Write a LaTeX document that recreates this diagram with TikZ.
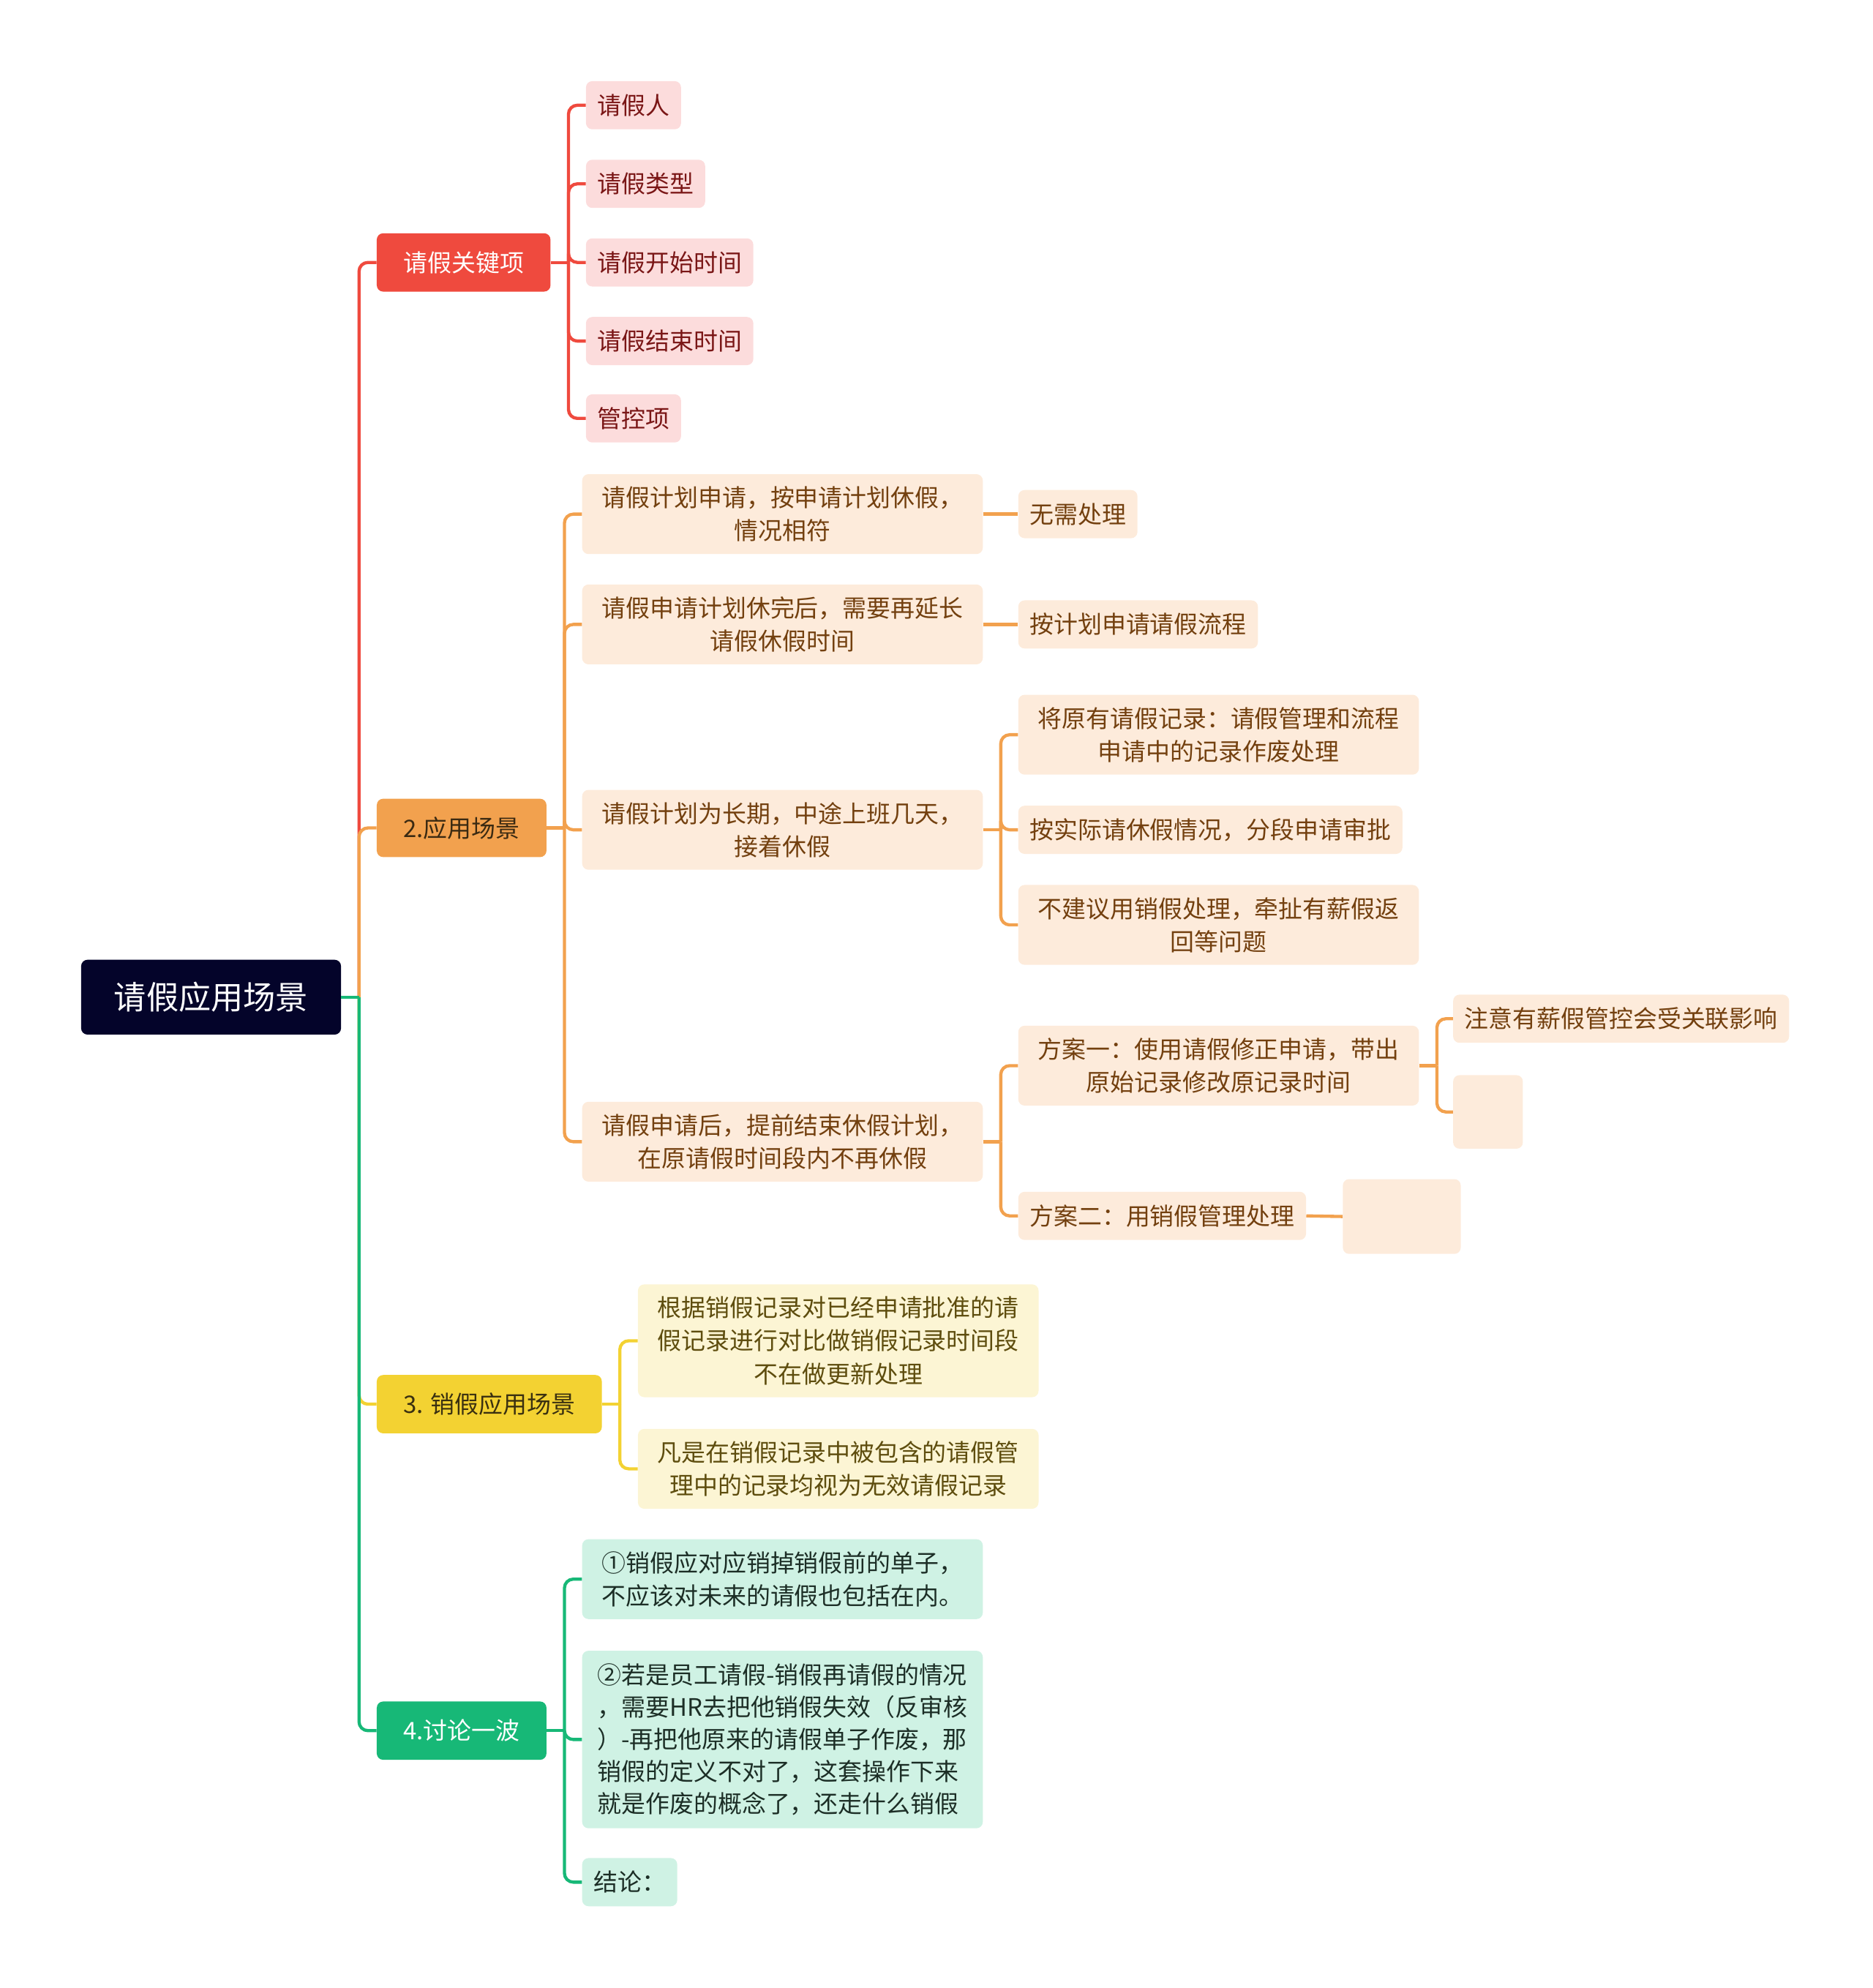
\documentclass[tikz,border=0pt]{standalone}
\usepackage{fontspec}
\setmainfont{Noto Sans CJK SC}
\usepackage{xcolor}
\usepackage{tikz}
\usetikzlibrary{positioning}
\definecolor{rootc}{HTML}{04042A}
\definecolor{redc}{HTML}{EF4A3E}
\definecolor{redl}{HTML}{FCDCDC}
\definecolor{redt}{HTML}{7A1616}
\definecolor{orac}{HTML}{F2A14E}
\definecolor{oral}{HTML}{FDEBDB}
\definecolor{orat}{HTML}{73400F}
\definecolor{oramt}{HTML}{3B2A12}
\definecolor{yelc}{HTML}{F3D232}
\definecolor{yell}{HTML}{FCF5D4}
\definecolor{yelt}{HTML}{5E4D0E}
\definecolor{yelmt}{HTML}{3A3010}
\definecolor{grnc}{HTML}{17B877}
\definecolor{grnl}{HTML}{CFF2E4}
\definecolor{grnt}{HTML}{1C2E26}
\tikzset{
  topic/.style   = {rounded corners=5pt, fill=rootc, text=white, inner sep=0pt,
                    minimum width=205pt, minimum height=59pt,
                    font=\fontsize{25.5}{30}\selectfont},
  mainbox/.style = {anchor=west, rounded corners=5pt, inner xsep=21pt, inner ysep=0pt,
                    minimum height=46pt, font=\fontsize{19}{26}\selectfont},
  subbox/.style  = {anchor=west, rounded corners=5pt, inner xsep=9pt, inner ysep=0pt,
                    minimum height=38pt, font=\fontsize{19}{26}\selectfont},
  widebox/.style = {subbox, minimum width=316pt, align=center, minimum height=63pt},
  keyleaf/.style = {subbox, fill=redl, text=redt},
  appleaf/.style = {subbox, fill=oral, text=orat},
  appwide/.style = {widebox, fill=oral, text=orat},
  celwide/.style = {widebox, fill=yell, text=yelt},
  talkwide/.style= {widebox, fill=grnl, text=grnt, align=left},
  link/.style    = {line width=2.5pt},
  fork/.style    = {link, rounded corners=7pt},
}
\begin{document}
\begin{tikzpicture}[x=1pt, y=-1pt]
  \useasboundingbox (0,0) rectangle (1477,1568);
  % root and main branches
  \node[topic] (root) at (166.5, 786.5) {请假应用场景};
  \node[mainbox, fill=redc, text=white] (key) at (297, 207) {请假关键项};
  \node[mainbox, fill=orac, text=oramt] (app) at (297, 653) {2.应用场景};
  \node[mainbox, fill=yelc, text=yelmt] (cel) at (297, 1107.5) {3. 销假应用场景};
  \node[mainbox, fill=grnc, text=white] (talk) at (297, 1365) {4.讨论一波};
  % key items
  \node[keyleaf] (k1) at (462, 83) {请假人};
  \node[keyleaf] (k2) at (462, 145) {请假类型};
  \node[keyleaf] (k3) at (462, 207) {请假开始时间};
  \node[keyleaf] (k4) at (462, 269) {请假结束时间};
  \node[keyleaf] (k5) at (462, 330) {管控项};
  % scenes
  \node[appwide] (a1) at (459, 405.5) {请假计划申请，按申请计划休假，\\情况相符};
  \node[appwide] (a2) at (459, 492.5) {请假申请计划休完后，需要再延长\\请假休假时间};
  \node[appwide] (a3) at (459, 654.5) {请假计划为长期，中途上班几天，\\接着休假};
  \node[appwide] (a4) at (459, 900.5) {请假申请后，提前结束休假计划，\\在原请假时间段内不再休假};
  \node[appleaf] (a1x) at (803, 405.5) {无需处理};
  \node[appleaf] (a2x) at (803, 492.5) {按计划申请请假流程};
  \node[appwide] (a3a) at (803, 579.5) {将原有请假记录：请假管理和流程\\申请中的记录作废处理};
  \node[appleaf] (a3b) at (803, 654.5) {按实际请休假情况，分段申请审批};
  \node[appwide] (a3c) at (803, 729.5) {不建议用销假处理，牵扯有薪假返\\回等问题};
  \node[appwide] (a4a) at (803, 840.5) {方案一：使用请假修正申请，带出\\原始记录修改原记录时间};
  \node[appleaf] (a4b) at (803, 959) {方案二：用销假管理处理};
  \node[appleaf] (a4a1) at (1146, 803.5) {注意有薪假管控会受关联影响};
  \node[appleaf, minimum width=55pt, minimum height=58pt] (a4a2) at (1146, 877) {};
  \node[appleaf, minimum width=93pt, minimum height=59pt] (a4b1) at (1059, 959.5) {};
  % cancel scenes
  \node[celwide, minimum height=89pt] (c1) at (503, 1057.5)
    {根据销假记录对已经申请批准的请\\假记录进行对比做销假记录时间段\\不在做更新处理};
  \node[celwide] (c2) at (503, 1158.5) {凡是在销假记录中被包含的请假管\\理中的记录均视为无效请假记录};
  % discussion
  \node[talkwide] (t1) at (459, 1245.5) {①销假应对应销掉销假前的单子，\\不应该对未来的请假也包括在内。};
  \node[talkwide, minimum height=140pt, font=\fontsize{19}{25.3}\selectfont] (t2) at (459, 1372)
    {②若是员工请假-销假再请假的情况\\，需要HR去把他销假失效（反审核\\）-再把他原来的请假单子作废，那\\销假的定义不对了，这套操作下来\\就是作废的概念了，还走什么销假};
  \node[subbox, fill=grnl, text=grnt] (t3) at (459, 1484.5) {结论：};

  % trunk
  \coordinate (rj) at ([xshift=14pt]root.east);
  \draw[fork, redc] (rj) |- (key.west);
  \draw[fork, orac] (rj) |- (app.west);
  \draw[fork, yelc] (rj) |- (cel.west);
  \draw[fork, grnc] (rj) |- (talk.west);
  \draw[link, grnc] (root.east) -- (rj);
  % key items
  \draw[link, redc] (key.east) -- ++(14,0) coordinate (kj);
  \foreach \n in {k1,k2,k3,k4,k5}
    \draw[fork, redc] (kj) |- (\n.west);
  % scenes
  \draw[link, orac] (app.east) -- ++(14,0) coordinate (aj);
  \foreach \n in {a1,a2,a3,a4}
    \draw[fork, orac] (aj) |- (\n.west);
  \draw[link, orac] (a1.east) -- (a1x.west);
  \draw[link, orac] (a2.east) -- (a2x.west);
  \draw[link, orac] (a3.east) -- ++(14,0) coordinate (a3j);
  \foreach \n in {a3a,a3b,a3c}
    \draw[fork, orac] (a3j) |- (\n.west);
  \draw[link, orac] (a4.east) -- ++(14,0) coordinate (a4j);
  \foreach \n in {a4a,a4b}
    \draw[fork, orac] (a4j) |- (\n.west);
  \draw[link, orac] (a4a.east) -- ++(14,0) coordinate (a4aj);
  \foreach \n in {a4a1,a4a2}
    \draw[fork, orac] (a4aj) |- (\n.west);
  \draw[link, orac] (a4b.east) -- (a4b1.west);
  % cancel scenes
  \draw[link, yelc] (cel.east) -- ++(14,0) coordinate (cj);
  \foreach \n in {c1,c2}
    \draw[fork, yelc] (cj) |- (\n.west);
  % discussion
  \draw[link, grnc] (talk.east) -- ++(14,0) coordinate (tj);
  \foreach \n in {t1,t2,t3}
    \draw[fork, grnc] (tj) |- (\n.west);
\end{tikzpicture}
\end{document}
